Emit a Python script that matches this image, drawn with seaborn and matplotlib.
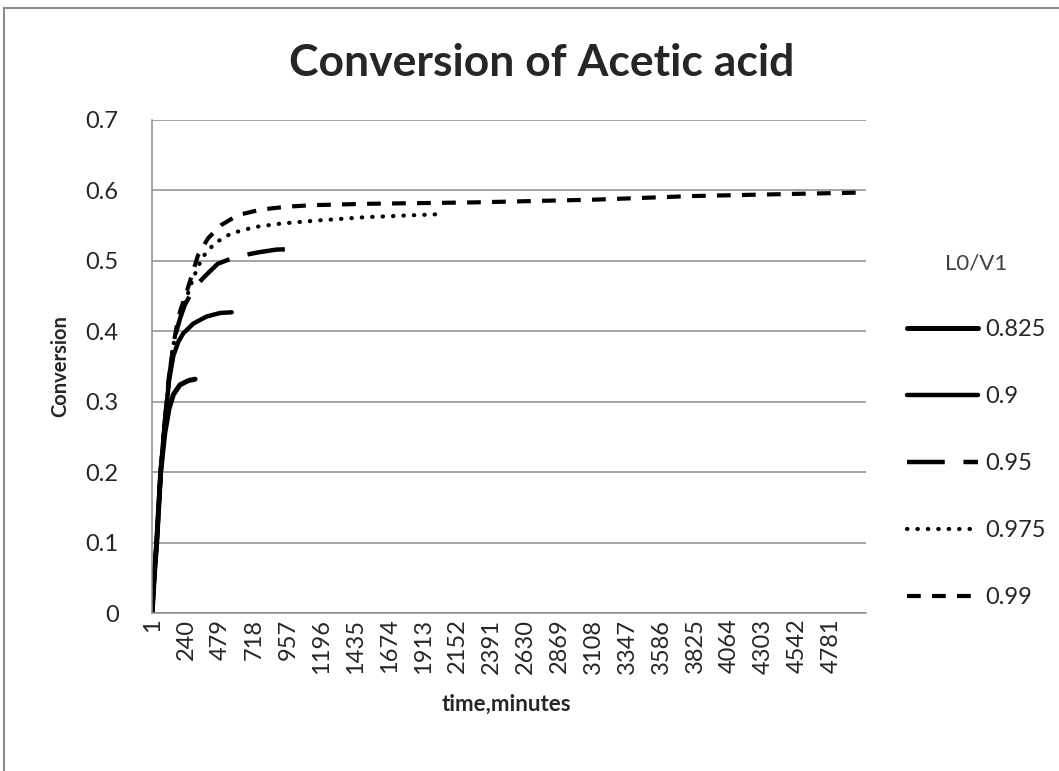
import pandas as pd
import matplotlib.pyplot as plt
import seaborn as sns
from matplotlib.patches import Rectangle

# values: time (minutes) and conversion for each L0/V1 ratio
ratios = ["0.825", "0.9", "0.95", "0.975", "0.99"]

time_0825 = [1, 15, 33, 61, 90, 120, 150, 197, 256, 303]
conv_0825 = [0, 0.05, 0.10, 0.20, 0.255, 0.29, 0.31, 0.324, 0.330, 0.332]

time_09 = [1, 15, 33, 61, 90, 120, 150, 185, 220, 291, 385, 479, 561]
conv_09 = [0, 0.05, 0.10, 0.20, 0.27, 0.33, 0.365, 0.385, 0.397, 0.411, 0.421, 0.426, 0.427]

time_095 = [1, 15, 33, 61, 90, 120, 150, 172, 200, 230, 300, 394, 464, 594, 746, 875, 1050]
conv_095 = [0, 0.05, 0.10, 0.20, 0.27, 0.335, 0.375, 0.40, 0.42, 0.437, 0.463, 0.4825, 0.496, 0.506, 0.512, 0.516, 0.517]

time_0975 = [1, 15, 33, 61, 90, 120, 150, 172, 230, 277, 320, 359, 441, 558, 723, 910, 1145, 1500, 2051]
conv_0975 = [0, 0.05, 0.10, 0.20, 0.27, 0.335, 0.38, 0.40, 0.44, 0.468, 0.49, 0.506, 0.525, 0.539, 0.548, 0.553, 0.557, 0.562, 0.5665]

time_099 = [1, 15, 33, 61, 90, 120, 150, 172, 200, 241, 324, 394, 488, 605, 770, 958, 1122, 1500, 2262, 3131, 3800, 4500, 5005]
conv_099 = [0, 0.05, 0.10, 0.20, 0.27, 0.335, 0.38, 0.405, 0.43, 0.454, 0.508, 0.532, 0.551, 0.565, 0.573, 0.577, 0.579, 0.581, 0.583, 0.587, 0.592, 0.595, 0.597]

x_ticks = [1, 240, 479, 718, 957, 1196, 1435, 1674, 1913, 2152, 2391, 2630,
           2869, 3108, 3347, 3586, 3825, 4064, 4303, 4542, 4781]
y_ticks = [0, 0.1, 0.2, 0.3, 0.4, 0.5, 0.6, 0.7]
y_tick_labels = ["0", "0.1", "0.2", "0.3", "0.4", "0.5", "0.6", "0.7"]

times = [time_0825, time_09, time_095, time_0975, time_099]
convs = [conv_0825, conv_09, conv_095, conv_0975, conv_099]
df = pd.concat([pd.DataFrame({"time": t, "conversion": c, "ratio": r})
                for t, c, r in zip(times, convs, ratios)])

# line look per series: width, dash pattern (in line widths), cap
styles = {
    "0.825": (3.6, None, "butt"),
    "0.9": (3.2, None, "butt"),
    "0.95": (3.2, (8.5, 4.2), "butt"),
    "0.975": (3.0, (0.1, 2.4), "round"),
    "0.99": (3.0, (3.3, 2.7), "butt"),
}

sns.set_style("white")
plt.rcParams["font.family"] = ["Lato", "DejaVu Sans"]

fig, ax = plt.subplots(figsize=(10.59, 7.71), dpi=100)
fig.subplots_adjust(left=152 / 1059, right=866 / 1059, top=1 - 120 / 771, bottom=1 - 613 / 771)

for name in ratios:
    lw, dashes, cap = styles[name]
    sub = df[df["ratio"] == name]
    sns.lineplot(data=sub, x="time", y="conversion", ax=ax, color="black",
                 lw=lw, label=name, estimator=None, sort=False)
    line = ax.lines[-1]
    if dashes is not None:
        line.set_dashes(dashes)
        line.set_dash_capstyle(cap)

ax.set_xlim(0, 5025)
ax.set_ylim(0, 0.7)
ax.set_xticks(x_ticks)
ax.set_xticklabels([str(v) for v in x_ticks], rotation=90, va="top")
ax.set_yticks(y_ticks)
ax.set_yticklabels(y_tick_labels)
ax.tick_params(axis="both", length=0, labelsize=17)
ax.tick_params(axis="y", pad=24)
ax.tick_params(axis="x", pad=4)

ax.yaxis.grid(True, color="#8c8c8c", lw=1.1)
ax.xaxis.grid(False)
for side in ["top", "right"]:
    ax.spines[side].set_visible(False)
for side in ["left", "bottom"]:
    ax.spines[side].set_color("#8c8c8c")
    ax.spines[side].set_linewidth(1.1)

fig.text(542 / 1059, 1 - 63 / 771, "Conversion of Acetic acid", fontsize=32,
         fontweight="bold", ha="center", va="center")
ax.set_ylabel("Conversion", fontsize=14.5, fontweight="bold")
ax.yaxis.set_label_coords((60 - 152) / 714, 0.5)
ax.yaxis.label.set_va("center")
ax.set_xlabel("time,minutes", fontsize=16, fontweight="bold")
ax.xaxis.set_label_coords((506 - 152) / 714, (613 - 704) / 493)
ax.xaxis.label.set_va("center")

leg = ax.legend(title="L0/V1", loc="upper left", bbox_to_anchor=(907 / 1059, 1 - 253 / 771),
                bbox_transform=fig.transFigure, frameon=False, fontsize=17, title_fontsize=16,
                handlelength=3.0, handletextpad=0.3, labelspacing=1.95,
                borderpad=0, borderaxespad=0)
leg.get_title().set_color("#404040")

# outer chart border (only top and left edges fall inside the picture)
fig.patches.append(Rectangle((4 / 1059, -0.05), 1.2, 1.05 - 8 / 771, transform=fig.transFigure,
                             fill=False, edgecolor="#8c8c8c", lw=1.5, clip_on=False))

plt.savefig("out.png", dpi=100)
